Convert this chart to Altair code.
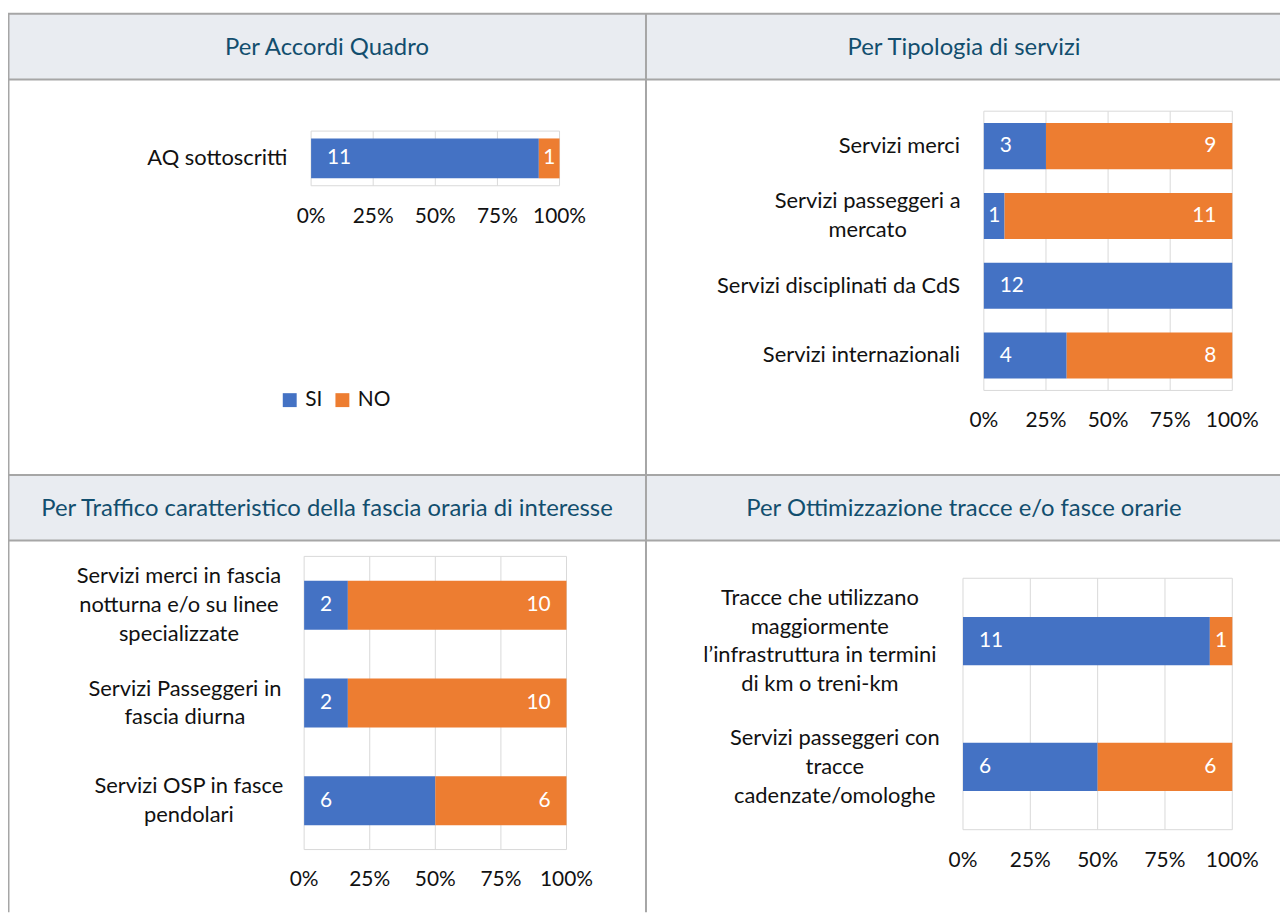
import altair as alt
import pandas as pd

# ---------------- data ----------------
p1_title = "Per Accordi Quadro"
p1_cats = ["AQ sottoscritti"]
p1_si = [11]
p1_no = [1]

p2_title = "Per Tipologia di servizi"
p2_cats = ["Servizi merci", "Servizi passeggeri a\nmercato",
           "Servizi disciplinati da CdS", "Servizi internazionali"]
p2_si = [3, 1, 12, 4]
p2_no = [9, 11, 0, 8]

p3_title = "Per Traffico caratteristico della fascia oraria di interesse"
p3_cats = ["Servizi merci in fascia\nnotturna e/o su linee\nspecializzate",
           "Servizi Passeggeri in\nfascia diurna",
           "Servizi OSP in fasce\npendolari"]
p3_si = [2, 2, 6]
p3_no = [10, 10, 6]

p4_title = "Per Ottimizzazione tracce e/o fasce orarie"
p4_cats = ["Tracce che utilizzano\nmaggiormente\nl\u2019infrastruttura in termini\ndi km o treni-km",
           "Servizi passeggeri con\ntracce\ncadenzate/omologhe"]
p4_si = [11, 6]
p4_no = [1, 6]

series = ["SI", "NO"]
tick_vals = [0, 0.25, 0.5, 0.75, 1]
tick_labels = ["0%", "25%", "50%", "75%", "100%"]

# ---------------- style ----------------
FONT = "Lato"
BLUE = "#4472C4"
ORANGE = "#ED7D31"
GRID = "#D9D9D9"
BORDER = "#A6A6A6"
HEAD_BG = "#E9ECF1"
TITLE_C = "#124E6E"
TXT = "#111111"
W, H = 1280, 907
FS_CAT = 22
FS_TICK = 21
FS_VAL = 21
FS_TITLE = 24
LH = 29

color_scale = alt.Scale(domain=series, range=[BLUE, ORANGE])
legend = alt.Legend(orient="none", legendX=273, legendY=381, direction="horizontal",
                    title=None, symbolType="square", symbolSize=196,
                    symbolStrokeWidth=0, labelFont=FONT, labelFontSize=FS_TICK,
                    labelColor=TXT, labelOffset=5, columnPadding=9, padding=0)


def panel(cats, si, no, xr, yr, pi, po, tick_y, center_dx):
    rows = []
    for c, a, b in zip(cats, si, no):
        rows.append({"cat": c, "serie": series[0], "val": a, "ord": 0})
        rows.append({"cat": c, "serie": series[1], "val": b, "ord": 1})
    df = pd.DataFrame(rows)

    def X(f):
        return alt.X(f, scale=alt.Scale(domain=[0, 1], range=xr, nice=False, zero=False), axis=None)

    def Y():
        return alt.Y("cat:N", scale=alt.Scale(domain=cats, range=yr, paddingInner=pi,
                                              paddingOuter=po), axis=None)

    base = (alt.Chart(df)
            .transform_stack(stack="val", groupby=["cat"], as_=["v0", "v1"],
                             offset="normalize",
                             sort=[alt.SortField("ord", order="ascending")])
            .transform_calculate(share="datum.v1 - datum.v0",
                                 mid="(datum.v0 + datum.v1) / 2"))

    tdf = pd.DataFrame({"t": tick_vals, "lab": tick_labels})
    one = pd.DataFrame({"a": [0], "b": [1]})
    layers = []
    layers.append(alt.Chart(tdf).mark_rule(color=GRID, strokeWidth=1).encode(
        x=X("t:Q"), y=alt.value(yr[0]), y2=alt.value(yr[1])))
    for yy in yr:
        layers.append(alt.Chart(one).mark_rule(color=GRID, strokeWidth=1).encode(
            x=X("a:Q"), x2="b:Q", y=alt.value(yy)))

    layers.append(base.mark_bar().encode(
        x=X("v0:Q"), x2="v1:Q", y=Y(),
        color=alt.Color("serie:N", scale=color_scale, legend=legend)))

    txt = dict(font=FONT, fontSize=FS_VAL, color="white", baseline="middle")
    layers.append(base.transform_filter("datum.ord == 0 && datum.val > 0 && datum.share >= 0.1").mark_text(
        align="left", dx=16, **txt).encode(x=X("v0:Q"), y=Y(), text="val:Q"))
    layers.append(base.transform_filter("datum.ord == 1 && datum.val > 0 && datum.share >= 0.1").mark_text(
        align="right", dx=-16, **txt).encode(x=X("v1:Q"), y=Y(), text="val:Q"))
    layers.append(base.transform_filter("datum.val > 0 && datum.share < 0.1").mark_text(
        align="center", **txt).encode(x=X("mid:Q"), y=Y(), text="val:Q"))

    layers.append(alt.Chart(tdf).mark_text(font=FONT, fontSize=FS_TICK, color=TXT, baseline="middle").encode(
        x=X("t:Q"), y=alt.value(tick_y), text="lab:N"))

    for c in cats:
        cdf = pd.DataFrame({"cat": [c], "z": [0]})
        ch = alt.Chart(cdf)
        n = c.count("\n")
        if n > 0:
            m = ch.mark_text(font=FONT, fontSize=FS_CAT, color=TXT, baseline="middle",
                             align="center", lineBreak="\n", lineHeight=LH,
                             dx=center_dx[c], dy=-n * LH / 2)
        else:
            m = ch.mark_text(font=FONT, fontSize=FS_CAT, color=TXT, baseline="middle",
                             align="right", dx=-24)
        layers.append(m.encode(x=X("z:Q"), y=Y(), text="cat:N"))
    return layers


p1 = panel(p1_cats, p1_si, p1_no, [305, 555], [121, 176], 0.27, 0.135, 207, {})
p2 = panel(p2_cats, p2_si, p2_no, [982, 1232], [101, 382], 0.34, 0.17, 413,
           {p2_cats[1]: -117})
p3 = panel(p3_cats, p3_si, p3_no, [298, 562], [549, 844], 0.5, 0.25, 875,
           {p3_cats[0]: -126, p3_cats[1]: -120, p3_cats[2]: -116})
p4 = panel(p4_cats, p4_si, p4_no, [961, 1232], [571, 824], 0.615, 0.3075, 856,
           {p4_cats[0]: -144, p4_cats[1]: -129})

# ---------------- table frame ----------------
one = pd.DataFrame({"d": [0]})
bgc = alt.Chart(one)
bg = []
bg.append(bgc.mark_rect(color=HEAD_BG).encode(x=alt.value(0), x2=alt.value(W), y=alt.value(3), y2=alt.value(69)))
bg.append(bgc.mark_rect(color=HEAD_BG).encode(x=alt.value(0), x2=alt.value(W), y=alt.value(467), y2=alt.value(533)))
for yy in [3, 69, 467, 533]:
    bg.append(bgc.mark_rule(color=BORDER, strokeWidth=2).encode(
        x=alt.value(0), x2=alt.value(W), y=alt.value(yy)))
for xx in [0.5, 642]:
    bg.append(bgc.mark_rule(color=BORDER, strokeWidth=2).encode(
        x=alt.value(xx), y=alt.value(3), y2=alt.value(H)))

for t, tx, ty in [(p1_title, 321, 37), (p2_title, 962, 37), (p3_title, 321, 501), (p4_title, 962, 501)]:
    bg.append(alt.Chart(pd.DataFrame({"t": [t]})).mark_text(
        font=FONT, fontSize=FS_TITLE, color=TITLE_C, baseline="middle", align="center").encode(
        x=alt.value(tx), y=alt.value(ty), text="t:N"))

chart = (alt.layer(*bg, *p1, *p2, *p3, *p4)
         .resolve_scale(x="independent", y="independent")
         .properties(width=W, height=H, autosize="none", padding=0)
         .configure_view(stroke=None))

chart.save("out.html", embed_options={"renderer": "svg", "actions": False})
